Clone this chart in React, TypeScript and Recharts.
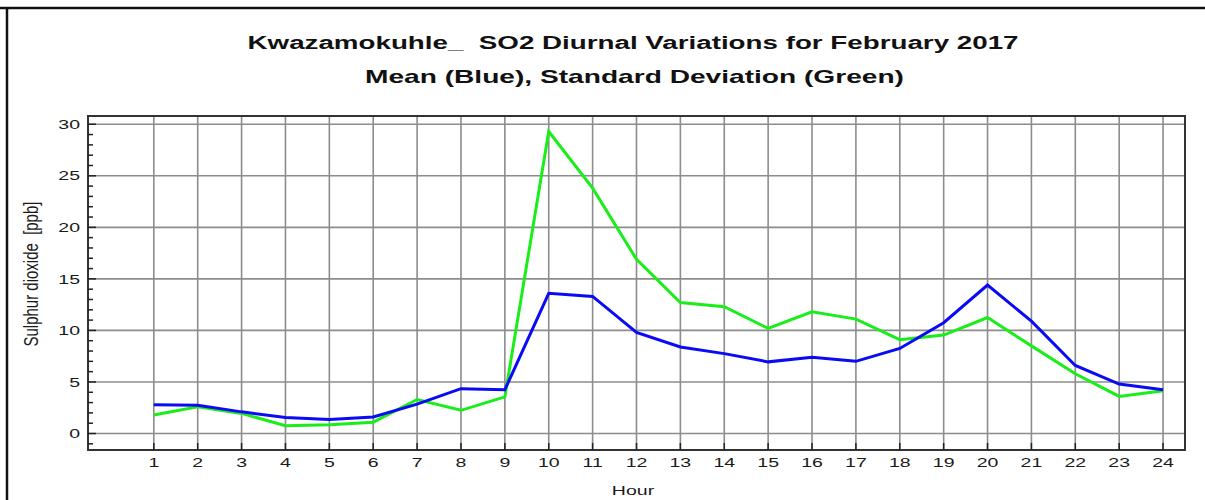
import { LineChart, Line, XAxis, YAxis, CartesianGrid, ReferenceArea } from "recharts";

// Hourly SO2 statistics, Kwazamokuhle, February 2017 (values in ppb)
const hours = [1, 2, 3, 4, 5, 6, 7, 8, 9, 10, 11, 12, 13, 14, 15, 16, 17, 18, 19, 20, 21, 22, 23, 24];
const meanSO2 = [2.8, 2.75, 2.1, 1.55, 1.35, 1.6, 2.85, 4.35, 4.25, 13.6, 13.3, 9.8, 8.4, 7.75, 6.95, 7.4, 7.0, 8.25, 10.75, 14.4, 10.9, 6.6, 4.8, 4.25];
const stdSO2 = [1.8, 2.6, 1.95, 0.75, 0.85, 1.1, 3.3, 2.25, 3.55, 29.3, 23.8, 16.9, 12.7, 12.3, 10.2, 11.8, 11.1, 9.1, 9.55, 11.25, 8.5, 5.8, 3.6, 4.15];

const yMajorTicks = [0, 5, 10, 15, 20, 25, 30];
const yMinorTicks = [-1, 0, 1, 2, 3, 4, 5, 6, 7, 8, 9, 10, 11, 12, 13, 14, 15, 16, 17, 18, 19, 20, 21, 22, 23, 24, 25, 26, 27, 28, 29, 30];
const xDomain: [number, number] = [-0.5, 24.5];
const yDomain: [number, number] = [-1.6, 30.8];

const data = hours.map((h, i) => ({ hour: h, mean: meanSO2[i], std: stdSO2[i] }));

const FONT = "'Liberation Sans', Arial, sans-serif";
const STRETCH = 1.5; // the source image is stretched sideways
const GAP = 8;

function YTick(props: any) {
  const { x, y, payload } = props;
  const v = payload.value as number;
  const major = v % 5 === 0;
  const axisX = x + GAP;
  return (
    <g>
      <line x1={axisX} x2={axisX + (major ? 8 : 5)} y1={y} y2={y} stroke="#222" strokeWidth={1.5} />
      {major && (
        <text
          transform={`translate(${x} ${y}) scale(${STRETCH} 1)`}
          textAnchor="end"
          dy="0.36em"
          fontSize={13}
          fontFamily={FONT}
          fill="#1a1a1a"
        >
          {v}
        </text>
      )}
    </g>
  );
}

function XTick(props: any) {
  const { x, y, payload } = props;
  const axisY = y - GAP;
  return (
    <g>
      <line x1={x} x2={x} y1={axisY} y2={axisY - 7} stroke="#222" strokeWidth={1.5} />
      <text
        transform={`translate(${x} ${axisY + 16.5}) scale(${STRETCH} 1)`}
        textAnchor="middle"
        fontSize={13}
        fontFamily={FONT}
        fill="#1a1a1a"
      >
        {payload.value}
      </text>
    </g>
  );
}

export default function App() {
  return (
    <div style={{ position: "absolute", left: 0, top: 0, width: 1205, height: 500, background: "#fff" }}>
      <LineChart width={1205} height={500} data={data} margin={{ top: 116, right: 20, bottom: 20, left: 8 }}>
        <CartesianGrid
          horizontalValues={yMajorTicks}
          verticalValues={hours}
          stroke="#8c8c8c"
          strokeWidth={1.6}
        />
        <ReferenceArea
          x1={xDomain[0]}
          x2={xDomain[1]}
          y1={yDomain[0]}
          y2={yDomain[1]}
          fill="none"
          stroke="#333"
          strokeWidth={2}
        />
        <XAxis
          type="number"
          dataKey="hour"
          domain={xDomain}
          ticks={hours}
          interval={0}
          allowDataOverflow
          height={30}
          tickSize={0}
          tickMargin={GAP}
          tickLine={false}
          axisLine={{ stroke: "#333", strokeWidth: 2 }}
          tick={<XTick />}
        />
        <YAxis
          type="number"
          domain={yDomain}
          ticks={yMinorTicks}
          interval={0}
          allowDataOverflow
          width={80}
          tickSize={0}
          tickMargin={GAP}
          tickLine={false}
          axisLine={{ stroke: "#333", strokeWidth: 2 }}
          tick={<YTick />}
        />
        <Line type="linear" dataKey="std" stroke="#1aee1a" strokeWidth={3} dot={false} isAnimationActive={false} />
        <Line type="linear" dataKey="mean" stroke="#0a0af5" strokeWidth={3} dot={false} isAnimationActive={false} />
      </LineChart>
      <svg
        width={1205}
        height={500}
        style={{ position: "absolute", left: 0, top: 0, pointerEvents: "none" }}
      >
        <line x1={0} x2={1205} y1={8} y2={8} stroke="#111" strokeWidth={2.5} />
        <line x1={7} x2={7} y1={7} y2={500} stroke="#111" strokeWidth={2.5} />
        <g fontFamily={FONT} fontWeight="bold" fontSize={18.5} fill="#111" textAnchor="middle">
          <text transform={`translate(633 48.5) scale(${STRETCH} 1)`}>
            Kwazamokuhle_{"\u00a0 "}SO2 Diurnal Variations for February 2017
          </text>
          <text transform={`translate(634.5 83) scale(1.52 1)`}>
            Mean (Blue), Standard Deviation (Green)
          </text>
        </g>
        <text
          transform={`translate(38 274) rotate(-90) scale(1 1.35)`}
          textAnchor="middle"
          fontFamily={FONT}
          fontSize={15}
          fill="#1a1a1a"
        >
          Sulphur dioxide{"\u00a0 "}[ppb]
        </text>
        <text
          transform={`translate(633 495) scale(${STRETCH} 1)`}
          textAnchor="middle"
          fontFamily={FONT}
          fontSize={13}
          fill="#1a1a1a"
        >
          Hour
        </text>
      </svg>
    </div>
  );
}
